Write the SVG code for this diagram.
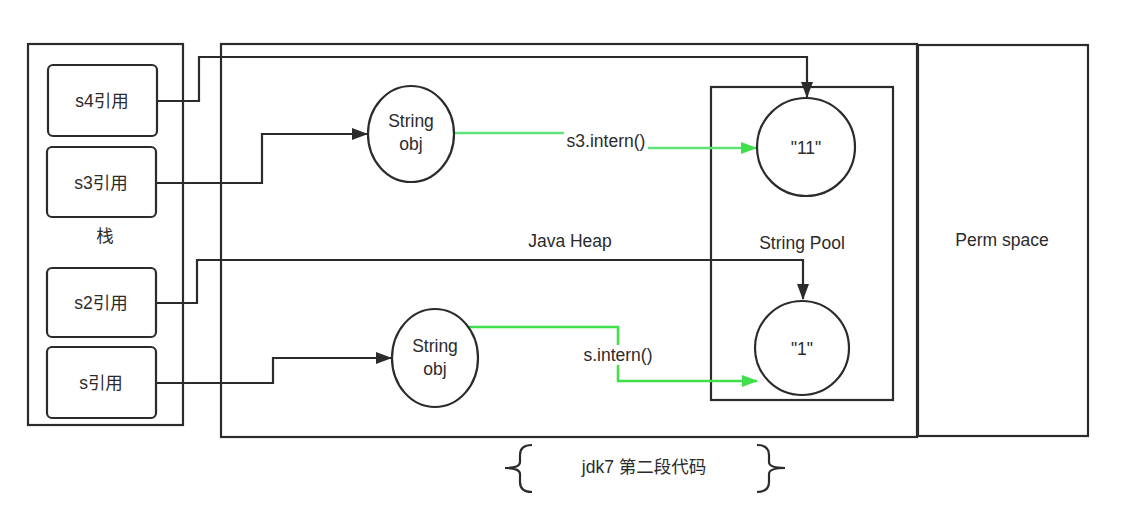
<svg xmlns="http://www.w3.org/2000/svg" width="1122" height="525" viewBox="0 0 1122 525">
<style>
.box{fill:none;stroke:#2b2b2b;stroke-width:2.2}
.nb{fill:#fff;stroke:#2b2b2b;stroke-width:2.2}
.t{font-family:"Liberation Sans","Noto Sans CJK SC",sans-serif;font-size:17.5px;fill:#2b2b2b;text-anchor:middle;dominant-baseline:central}
.c{fill:none;stroke:#2b2b2b;stroke-width:2.2}
.g{fill:none;stroke:#3fe04a;stroke-width:2.5}
</style>
<defs>
<marker id="ah" markerWidth="16" markerHeight="12" refX="15" refY="6" orient="auto" markerUnits="userSpaceOnUse"><path d="M0,0 L16,6 L0,12 Z" fill="#2b2b2b"/></marker>
<marker id="ag" markerWidth="16" markerHeight="12" refX="15" refY="6" orient="auto" markerUnits="userSpaceOnUse"><path d="M0,0 L16,6 L0,12 Z" fill="#3fe04a"/></marker>
</defs>
<rect width="1122" height="525" fill="#fff"/>
<g id="stack"><rect class="box" x="28" y="44" width="155" height="381"/><text class="t" x="105" y="236">栈</text></g>
<g id="heap"><rect class="box" x="221" y="44" width="696" height="393"/><text class="t" x="570" y="241">Java Heap</text></g>
<g id="perm"><rect class="box" x="918" y="45" width="170" height="391"/><text class="t" x="1002" y="240">Perm space</text></g>
<g id="pool"><rect class="box" x="711" y="87" width="182" height="313"/><text class="t" x="802" y="243">String Pool</text></g>
<g id="connectors">
<path class="c" d="M157,101 H199 V57 H807 V97" marker-end="url(#ah)"/>
<path class="c" d="M156,183 H262 V134 H367" marker-end="url(#ah)"/>
<path class="c" d="M156,303 H197 V260 H803 V299" marker-end="url(#ah)"/>
<path class="c" d="M156,383 H273 V358 H391" marker-end="url(#ah)"/>
<path class="g" style="stroke:#5ee27a" d="M454,133 H606 V148 H756" marker-end="url(#ag)"/>
<path class="g" d="M469,327 H618 V381 H757" marker-end="url(#ag)"/>
<rect x="564" y="131" width="84" height="20" fill="#fff"/>
<text class="t" x="606" y="141">s3.intern()</text>
<rect x="582" y="345" width="72" height="20" fill="#fff"/>
<text class="t" x="618" y="355">s.intern()</text>
</g>
<g id="s4"><rect class="nb" x="48" y="65" width="109" height="71" rx="5"/><text class="t" x="102" y="101">s4引用</text></g>
<g id="s3"><rect class="nb" x="47" y="147" width="109" height="70" rx="5"/><text class="t" x="101" y="183">s3引用</text></g>
<g id="s2"><rect class="nb" x="47" y="268" width="109" height="69" rx="5"/><text class="t" x="101" y="303">s2引用</text></g>
<g id="s"><rect class="nb" x="47" y="347" width="109" height="71" rx="5"/><text class="t" x="101" y="383">s引用</text></g>
<g id="obj1"><ellipse class="nb" cx="411" cy="134" rx="43" ry="48"/><text class="t" x="411" y="121">String</text><text class="t" x="411" y="144">obj</text></g>
<g id="obj2"><ellipse class="nb" cx="435" cy="358" rx="43" ry="49"/><text class="t" x="435" y="346">String</text><text class="t" x="435" y="369">obj</text></g>
<g id="c11"><circle class="nb" cx="806" cy="147" r="49"/><text class="t" x="806" y="148">"11"</text></g>
<g id="c1"><circle class="nb" cx="802" cy="348" r="47"/><text class="t" x="802" y="349">"1"</text></g>
<g id="note">
<path class="c" d="M532,445 Q520,445 520,455 V462 Q520,468 505,468 Q520,468 520,474 V482 Q520,492 532,492"/>
<path class="c" d="M757,445 Q769,445 769,455 V462 Q769,468 785,468 Q769,468 769,474 V482 Q769,492 757,492"/>
<text class="t" x="644" y="467">jdk7 第二段代码</text>
</g>
</svg>
